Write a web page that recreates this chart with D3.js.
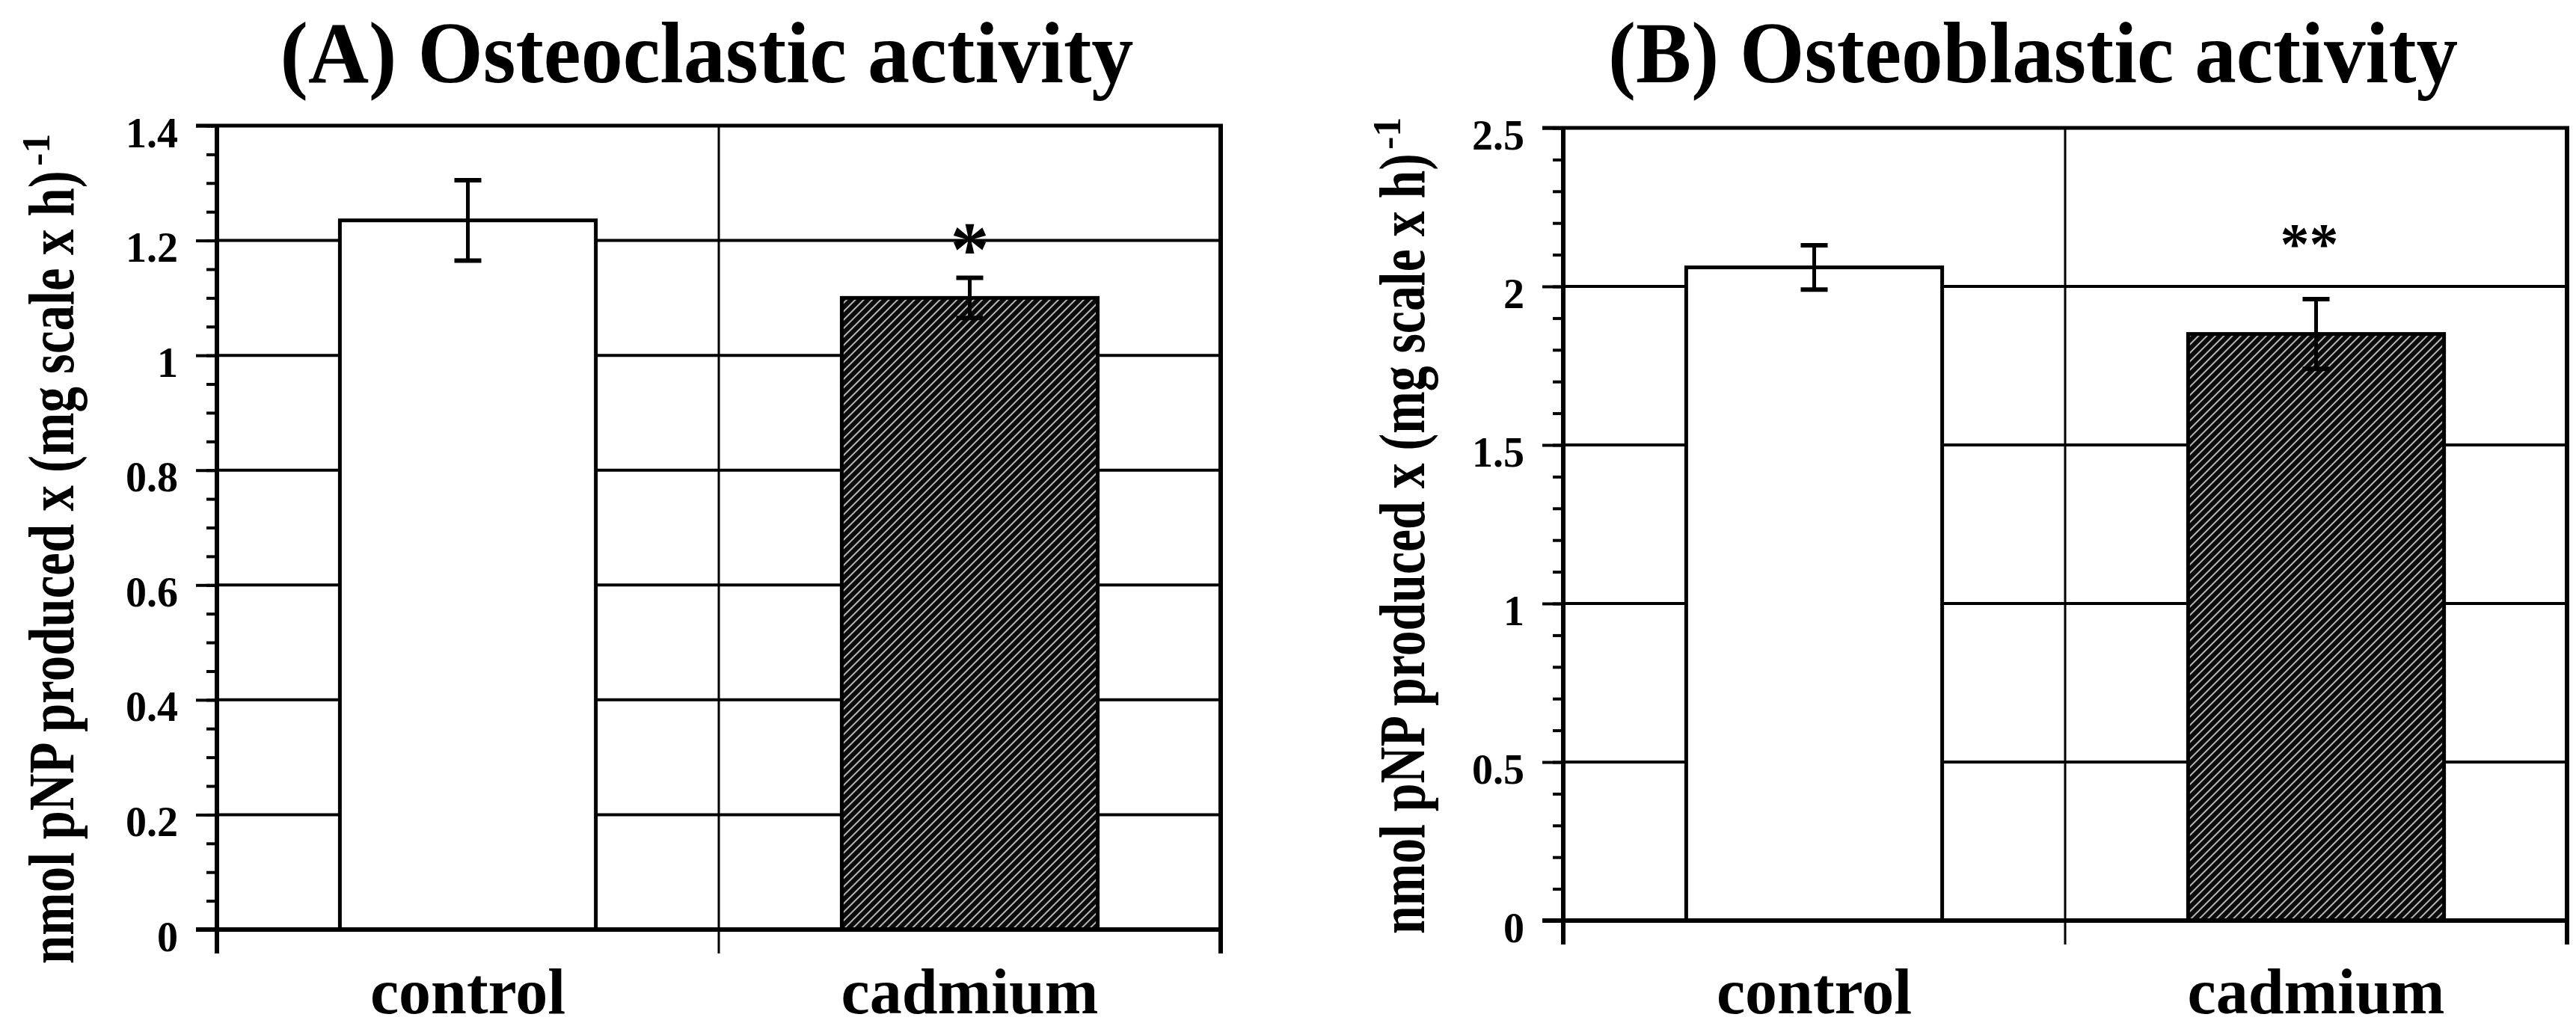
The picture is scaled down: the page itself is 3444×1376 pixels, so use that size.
<!DOCTYPE html>
<html><head><meta charset="utf-8">
<script src="https://cdn.jsdelivr.net/npm/d3@7"></script>
<style>
body{margin:0;background:#fff}
svg{display:block}
text{font-family:"Liberation Serif","Times New Roman",serif;font-weight:bold;fill:#000}
</style>
</head><body>
<svg id="c" width="3444" height="1376"></svg>
<script>
// ---------- data ----------
const categories = ["control", "cadmium"];
const osteoclasticValues = [1.235, 1.10];
const osteoclasticErrors = [0.07, 0.035];
const osteoblasticValues = [2.06, 1.85];
const osteoblasticErrors = [0.07, 0.11];
const osteoclasticTicks = [0, 0.2, 0.4, 0.6, 0.8, 1, 1.2, 1.4];
const osteoblasticTicks = [0, 0.5, 1, 1.5, 2, 2.5];
const osteoclasticMinorStep = 0.05;
const osteoblasticMinorStep = 0.1;
const titles = ["(A) Osteoclastic activity", "(B) Osteoblastic activity"];
const yLabelMain = "nmol pNP produced x (mg scale x h)";
const yLabelSup = "-1";
const significanceMarks = ["*", "**"];
const significanceLevels = [1.2, 2.155];

// ---------- layout ----------
const layout = [
  {left: 290, right: 1632, top: 168, bottom: 1243, titleX: 945, titleLen: 1141,
   labelX: 98, labelY0: 1289, labelLen: 1061, supY0: 222, sigFont: 104, sigDx: 0},
  {left: 2090, right: 3432, top: 171, bottom: 1231, titleX: 2718, titleLen: 1136,
   labelX: 1904, labelY0: 1249, labelLen: 1044, supY0: 200, sigFont: 78, sigDx: -9}
];

const svg = d3.select("#c");
const defs = svg.append("defs");
const pat = defs.append("pattern").attr("id", "hatch")
  .attr("patternUnits", "userSpaceOnUse").attr("width", 8).attr("height", 8)
  .attr("patternTransform", "rotate(45)");
pat.append("rect").attr("width", 8).attr("height", 8).attr("fill", "#0a0a0a");
pat.append("line").attr("x1", 4).attr("y1", 0).attr("x2", 4).attr("y2", 8)
  .attr("stroke", "#d4d4d4").attr("stroke-width", 1.7);

function drawPanel(i, values, errors, ticks, minorStep) {
  const L = layout[i];
  const g = svg.append("g");
  const x = d3.scaleBand().domain(categories).range([L.left, L.right])
    .paddingInner(0.49).paddingOuter(0.245);
  const yMax = ticks[ticks.length - 1];
  const y = d3.scaleLinear().domain([0, yMax]).range([L.bottom, L.top]);

  // horizontal gridlines
  g.append("g").selectAll("line").data(ticks.filter(t => t > 0 && t < yMax)).join("line")
    .attr("x1", L.left).attr("x2", L.right)
    .attr("y1", d => y(d)).attr("y2", d => y(d))
    .attr("stroke", "#000").attr("stroke-width", 4);

  // category boundaries (vertical lines) incl. right border
  const bounds = categories.map((c, k) => L.left + (k + 1) * x.step());
  g.append("g").selectAll("line").data(bounds).join("line")
    .attr("x1", d => d).attr("x2", d => d)
    .attr("y1", L.top).attr("y2", L.bottom + 32)
    .attr("stroke", "#000").attr("stroke-width", (d, k) => k === bounds.length - 1 ? 6 : 3);

  // top border
  g.append("line").attr("x1", L.left - 28).attr("x2", L.right + 3)
    .attr("y1", y(yMax)).attr("y2", y(yMax)).attr("stroke", "#000").attr("stroke-width", 5);

  // bars
  g.append("g").selectAll("rect").data(categories).join("rect")
    .attr("x", d => x(d)).attr("width", x.bandwidth())
    .attr("y", (d, k) => y(values[k])).attr("height", (d, k) => y(0) - y(values[k]))
    .attr("fill", (d, k) => k === 0 ? "#fff" : "url(#hatch)")
    .attr("stroke", "#000").attr("stroke-width", 5);

  // error bars
  const eb = g.append("g").selectAll("g").data(categories).join("g");
  const cx = d => x(d) + x.bandwidth() / 2;
  eb.append("line").attr("x1", cx).attr("x2", cx)
    .attr("y1", (d, k) => y(values[k] - errors[k])).attr("y2", (d, k) => y(values[k] + errors[k]))
    .attr("stroke", "#000").attr("stroke-width", 5);
  [1, -1].forEach(s => {
    eb.append("line").attr("x1", d => cx(d) - 18).attr("x2", d => cx(d) + 18)
      .attr("y1", (d, k) => y(values[k] + s * errors[k])).attr("y2", (d, k) => y(values[k] + s * errors[k]))
      .attr("stroke", "#000").attr("stroke-width", 6);
  });

  // y axis: minor ticks
  const minor = d3.range(0, yMax + 1e-9, minorStep);
  const minorAxis = g.append("g").attr("transform", `translate(${L.left},0)`)
    .call(d3.axisLeft(y).tickValues(minor).tickSize(14).tickFormat(""));
  minorAxis.select(".domain").remove();
  minorAxis.selectAll("line").attr("stroke-width", 4);

  // y axis: major ticks + labels
  const majorAxis = g.append("g").attr("transform", `translate(${L.left},0)`)
    .call(d3.axisLeft(y).tickValues(ticks).tickSize(28).tickPadding(24).tickFormat(d => String(d)));
  majorAxis.select(".domain").remove();
  majorAxis.selectAll("line").attr("stroke-width", 4);
  majorAxis.selectAll("text").attr("font-size", 56).attr("dy", "0.5em")
    .style("font-family", '"Liberation Serif", serif').style("font-weight", "bold");

  // y axis line (extends below zero)
  g.append("line").attr("x1", L.left).attr("x2", L.left)
    .attr("y1", L.top - 2).attr("y2", L.bottom + 32).attr("stroke", "#000").attr("stroke-width", 6);
  // x axis line
  g.append("line").attr("x1", L.left - 28).attr("x2", L.right + 3)
    .attr("y1", y(0)).attr("y2", y(0)).attr("stroke", "#000").attr("stroke-width", 6);

  // category labels
  g.append("g").selectAll("text").data(categories).join("text")
    .attr("x", d => cx(d)).attr("y", 1355).attr("text-anchor", "middle")
    .attr("font-size", 86).text(d => d);

  // title
  g.append("text").attr("x", L.titleX).attr("y", 110).attr("text-anchor", "middle")
    .attr("font-size", 116).attr("textLength", L.titleLen).attr("lengthAdjust", "spacingAndGlyphs")
    .text(titles[i]);

  // y label (compressed along its length with a transform)
  const lab = g.append("text").attr("font-size", 86).text(yLabelMain);
  const natural = lab.node().getComputedTextLength();
  lab.attr("transform", `translate(${L.labelX},${L.labelY0}) rotate(-90) scale(${L.labelLen / natural},1)`);
  g.append("text").attr("transform", `translate(${L.labelX - 32},${L.supY0}) rotate(-90)`)
    .attr("font-size", 52).text(yLabelSup);

  // significance mark
  const sx = cx(categories[1]) + L.sigDx;
  g.append("text").attr("x", sx).attr("y", y(significanceLevels[i]) + L.sigFont * 0.45)
    .attr("text-anchor", "middle").attr("font-size", L.sigFont).text(significanceMarks[i]);
}

drawPanel(0, osteoclasticValues, osteoclasticErrors, osteoclasticTicks, osteoclasticMinorStep);
drawPanel(1, osteoblasticValues, osteoblasticErrors, osteoblasticTicks, osteoblasticMinorStep);
</script>
</body></html>
